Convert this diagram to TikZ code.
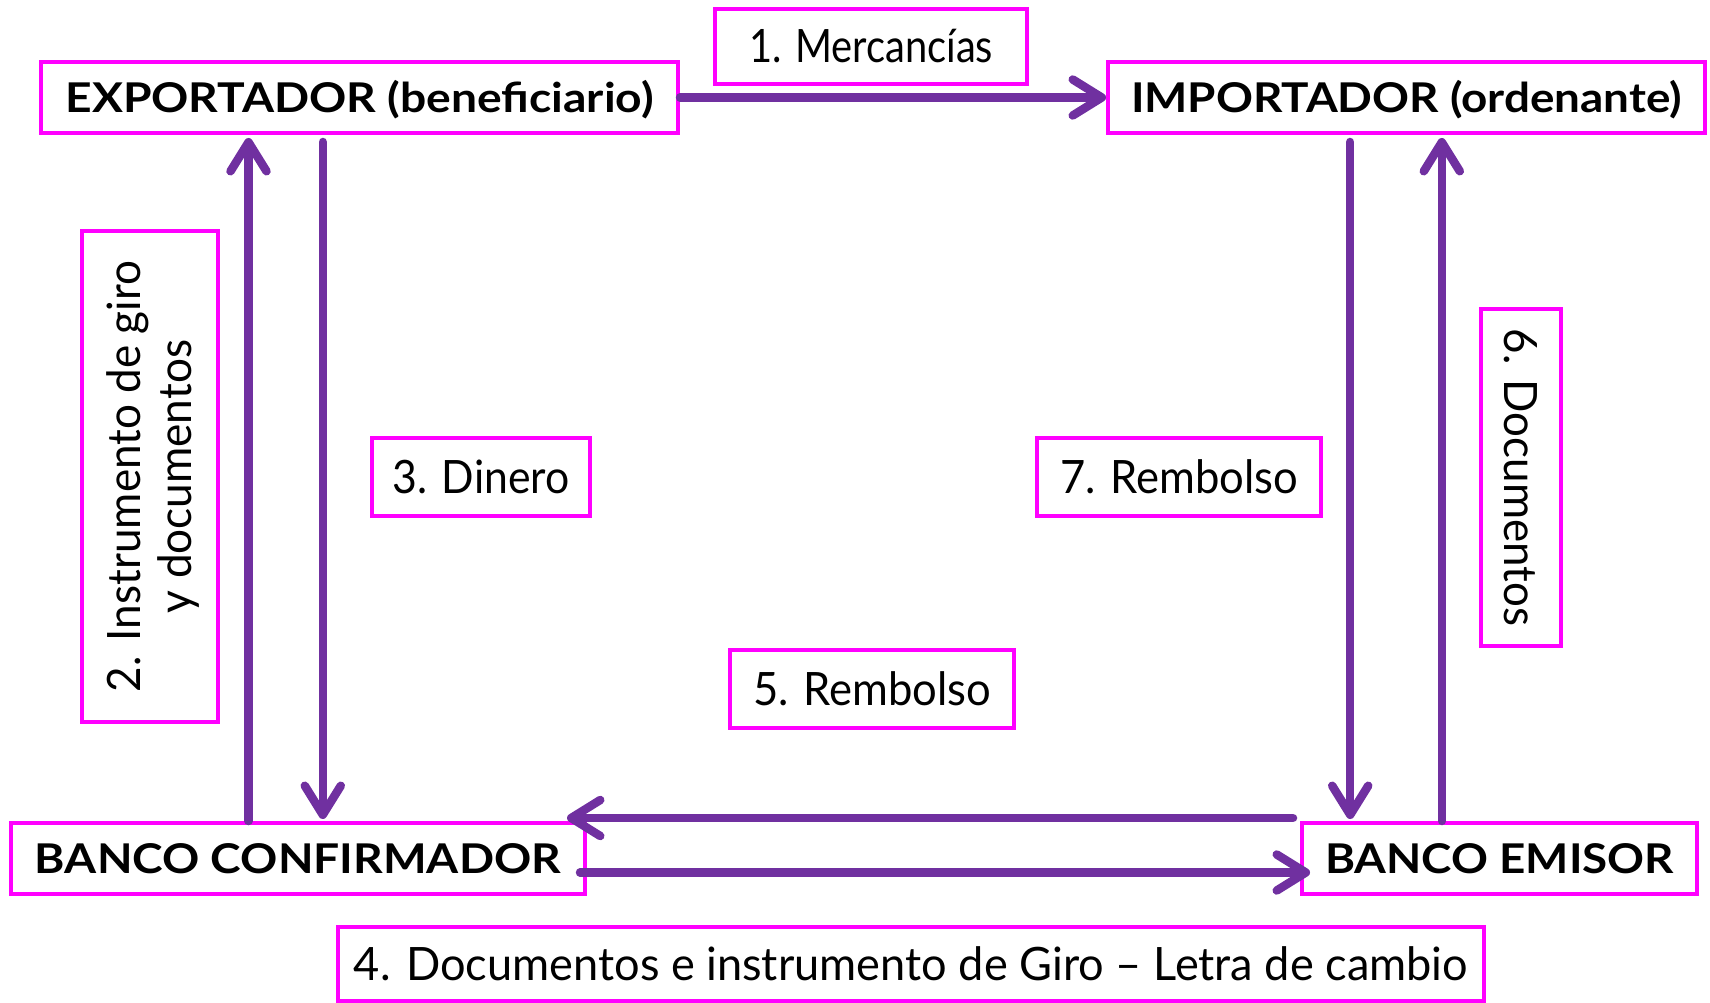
\documentclass[tikz,border=0pt]{standalone}
\usepackage{fontspec}
\setmainfont{Lato}
\usepackage{graphicx}
\usetikzlibrary{arrows.meta,calc}
\definecolor{boxmag}{HTML}{FF00FF}
\definecolor{arrpur}{HTML}{7030A0}
\newcommand{\fw}[2]{\resizebox{#1pt}{\height}{#2}}
\tikzset{
  box/.style={draw=boxmag, line width=4pt, rectangle, inner sep=0pt, fill=white},
  reg/.style={font=\fontsize{46}{54}\selectfont, text height=33pt, text depth=0pt},
  bld/.style={font=\fontsize{41}{48}\selectfont\bfseries, text height=29.4pt, text depth=0pt},
  lbl/.style={inner sep=0pt, text=black},
  arr/.style={draw=arrpur, line width=8.5pt, line cap=round,
    -{Straight Barb[length=29pt,width=36pt,round]}}
}
\begin{document}
\begin{tikzpicture}[x=1pt,y=-1pt]
\useasboundingbox (0,0) rectangle (1710,1003);
% boxes
\node[box,bld,minimum width=637pt,minimum height=71pt] (exp) at (359.5,97.5) {\fw{588}{EXPORTADOR (beneficiario)}};
\node[box,reg,minimum width=312pt,minimum height=75pt] (merc) at (871,46.5) {\fw{244}{1. Mercancías}};
\node[box,bld,minimum width=597pt,minimum height=71pt] (imp) at (1406.5,97.5) {\fw{551}{IMPORTADOR (ordenante)}};
\node[box,minimum width=136pt,minimum height=491pt] (b2) at (150,476.5) {};
\node[lbl,reg,rotate=90] (b2l1) at ($(b2.center)+(-26,0)$) {\fw{431}{2. Instrumento de giro}};
\node[lbl,reg,rotate=90] (b2l2) at ($(b2.center)+(25,0)$) {\fw{273}{y documentos}};
\node[box,reg,minimum width=218pt,minimum height=78pt] (din) at (481,477) {\fw{177}{3. Dinero}};
\node[box,reg,minimum width=284pt,minimum height=78pt] (rem7) at (1179,477) {\fw{238}{7. Rembolso}};
\node[box,reg,rotate=-90,minimum width=337pt,minimum height=80pt] (doc6) at (1521,477.5) {\fw{297}{6. Documentos}};
\node[box,reg,minimum width=284pt,minimum height=78pt] (rem5) at (872,689) {\fw{238}{5. Rembolso}};
\node[box,bld,minimum width=574pt,minimum height=71pt] (bconf) at (298,858.5) {\fw{526}{BANCO CONFIRMADOR}};
\node[box,bld,minimum width=395pt,minimum height=71pt] (bemi) at (1499.5,858.5) {\fw{349}{BANCO EMISOR}};
\node[box,reg,minimum width=1146pt,minimum height=74pt] (doc4) at (911,964) {\fw{1114}{4. Documentos e instrumento de Giro – Letra de cambio}};
% arrows
\draw[arr] (exp.east) -- (imp.west);
\draw[arr,shorten >=3pt] ([xshift=-49.5pt]bconf.north) -- ([xshift=-49.5pt]bconf.north |- exp.south);
\draw[arr,shorten <=7pt,shorten >=2pt] ([xshift=-36.7pt]exp.south) -- ([xshift=-36.7pt]exp.south |- bconf.north);
\draw[arr,shorten <=7pt,shorten >=2pt] ([xshift=-56.3pt]imp.south) -- ([xshift=-56.3pt]imp.south |- bemi.north);
\draw[arr,shorten >=3pt] ([xshift=-57.7pt]bemi.north) -- ([xshift=-57.7pt]bemi.north |- imp.south);
\draw[arr] ([xshift=-7pt,yshift=3pt]bemi.north west) -- ([xshift=-20pt,yshift=3pt]bconf.north east);
\draw[arr] ([xshift=-7pt,yshift=-14pt]bconf.east) -- ([xshift=10pt,yshift=-14pt]bemi.west);
\end{tikzpicture}
\end{document}
